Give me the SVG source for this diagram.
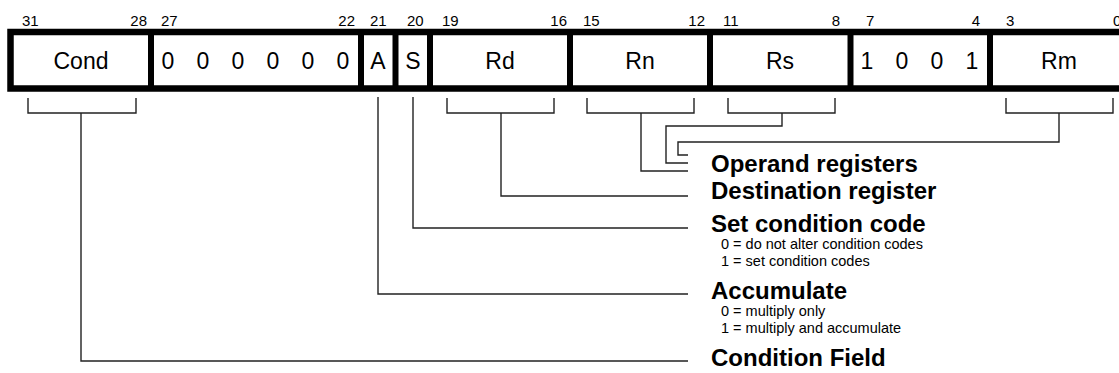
<svg xmlns="http://www.w3.org/2000/svg" width="1119" height="373" viewBox="0 0 1119 373">
<style>
.bn{font-family:"Liberation Sans",Arial,sans-serif;font-size:15px;fill:#000}
.ft{font-family:"Liberation Sans",Arial,sans-serif;font-size:23px;fill:#000;text-anchor:middle}
.lb{font-family:"Liberation Sans",Arial,sans-serif;font-size:24px;font-weight:bold;fill:#000}
.sm{font-family:"Liberation Sans",Arial,sans-serif;font-size:14.5px;fill:#000}
.frame{fill:#fff;stroke:#000;stroke-width:6.5}
.div{stroke:#000;stroke-width:6}
.ln{fill:none;stroke:#222;stroke-width:1.4}
</style>
<rect width="1119" height="373" fill="#fff"/>
<g id="bitnumbers">
<text class="bn" x="22" y="26">31</text>
<text class="bn" x="147" y="26" text-anchor="end">28</text>
<text class="bn" x="161" y="26">27</text>
<text class="bn" x="355" y="26" text-anchor="end">22</text>
<text class="bn" x="370" y="26">21</text>
<text class="bn" x="407" y="26">20</text>
<text class="bn" x="442" y="26">19</text>
<text class="bn" x="567" y="26" text-anchor="end">16</text>
<text class="bn" x="583" y="26">15</text>
<text class="bn" x="705" y="26" text-anchor="end">12</text>
<text class="bn" x="723" y="26">11</text>
<text class="bn" x="840" y="26" text-anchor="end">8</text>
<text class="bn" x="866" y="26">7</text>
<text class="bn" x="980" y="26" text-anchor="end">4</text>
<text class="bn" x="1006" y="26">3</text>
<text class="bn" x="1113" y="26">0</text>
</g>
<g id="register">
<rect class="frame" x="10.5" y="32" width="1130" height="56.5"/>
<line class="div" x1="151" y1="32" x2="151" y2="88.5"/>
<line class="div" x1="361" y1="32" x2="361" y2="88.5"/>
<line class="div" x1="395.5" y1="32" x2="395.5" y2="88.5"/>
<line class="div" x1="430" y1="32" x2="430" y2="88.5"/>
<line class="div" x1="570" y1="32" x2="570" y2="88.5"/>
<line class="div" x1="710" y1="32" x2="710" y2="88.5"/>
<line class="div" x1="850.5" y1="32" x2="850.5" y2="88.5"/>
<line class="div" x1="990" y1="32" x2="990" y2="88.5"/>
</g>
<g id="field-cond"><text class="ft" x="81" y="69">Cond</text></g>
<g id="field-zeros">
<text class="ft" x="168" y="69">0</text>
<text class="ft" x="203" y="69">0</text>
<text class="ft" x="238" y="69">0</text>
<text class="ft" x="273" y="69">0</text>
<text class="ft" x="308" y="69">0</text>
<text class="ft" x="343" y="69">0</text>
</g>
<g id="field-a"><text class="ft" x="378" y="69">A</text></g>
<g id="field-s"><text class="ft" x="413" y="69">S</text></g>
<g id="field-rd"><text class="ft" x="500" y="69">Rd</text></g>
<g id="field-rn"><text class="ft" x="640" y="69">Rn</text></g>
<g id="field-rs"><text class="ft" x="780" y="69">Rs</text></g>
<g id="field-1001">
<text class="ft" x="867" y="69">1</text>
<text class="ft" x="902" y="69">0</text>
<text class="ft" x="937" y="69">0</text>
<text class="ft" x="972" y="69">1</text>
</g>
<g id="field-rm"><text class="ft" x="1059" y="69">Rm</text></g>
<g id="connectors">
<path class="ln" d="M28,98V113H136V98M81,113V361H688"/>
<path class="ln" d="M378,97V294H688"/>
<path class="ln" d="M413,97V228H688"/>
<path class="ln" d="M447,98V113H554V98M501,113V196H688"/>
<path class="ln" d="M587,98V113H694V98M641,113V171H688"/>
<path class="ln" d="M728,98V113H835V98M782,113V126H666V163H688"/>
<path class="ln" d="M1006,98V113H1113V98M1059,113V142H678V155H688"/>
</g>
<g id="label-operand"><text class="lb" x="711" y="172">Operand registers</text></g>
<g id="label-destination"><text class="lb" x="711" y="199">Destination register</text></g>
<g id="label-set">
<text class="lb" x="711" y="232">Set condition code</text>
<text class="sm" x="721" y="249">0 = do not alter condition codes</text>
<text class="sm" x="721" y="266">1 = set condition codes</text>
</g>
<g id="label-accumulate">
<text class="lb" x="711" y="299">Accumulate</text>
<text class="sm" x="721" y="316">0 = multiply only</text>
<text class="sm" x="721" y="333">1 = multiply and accumulate</text>
</g>
<g id="label-condition"><text class="lb" x="711" y="366">Condition Field</text></g>
</svg>
